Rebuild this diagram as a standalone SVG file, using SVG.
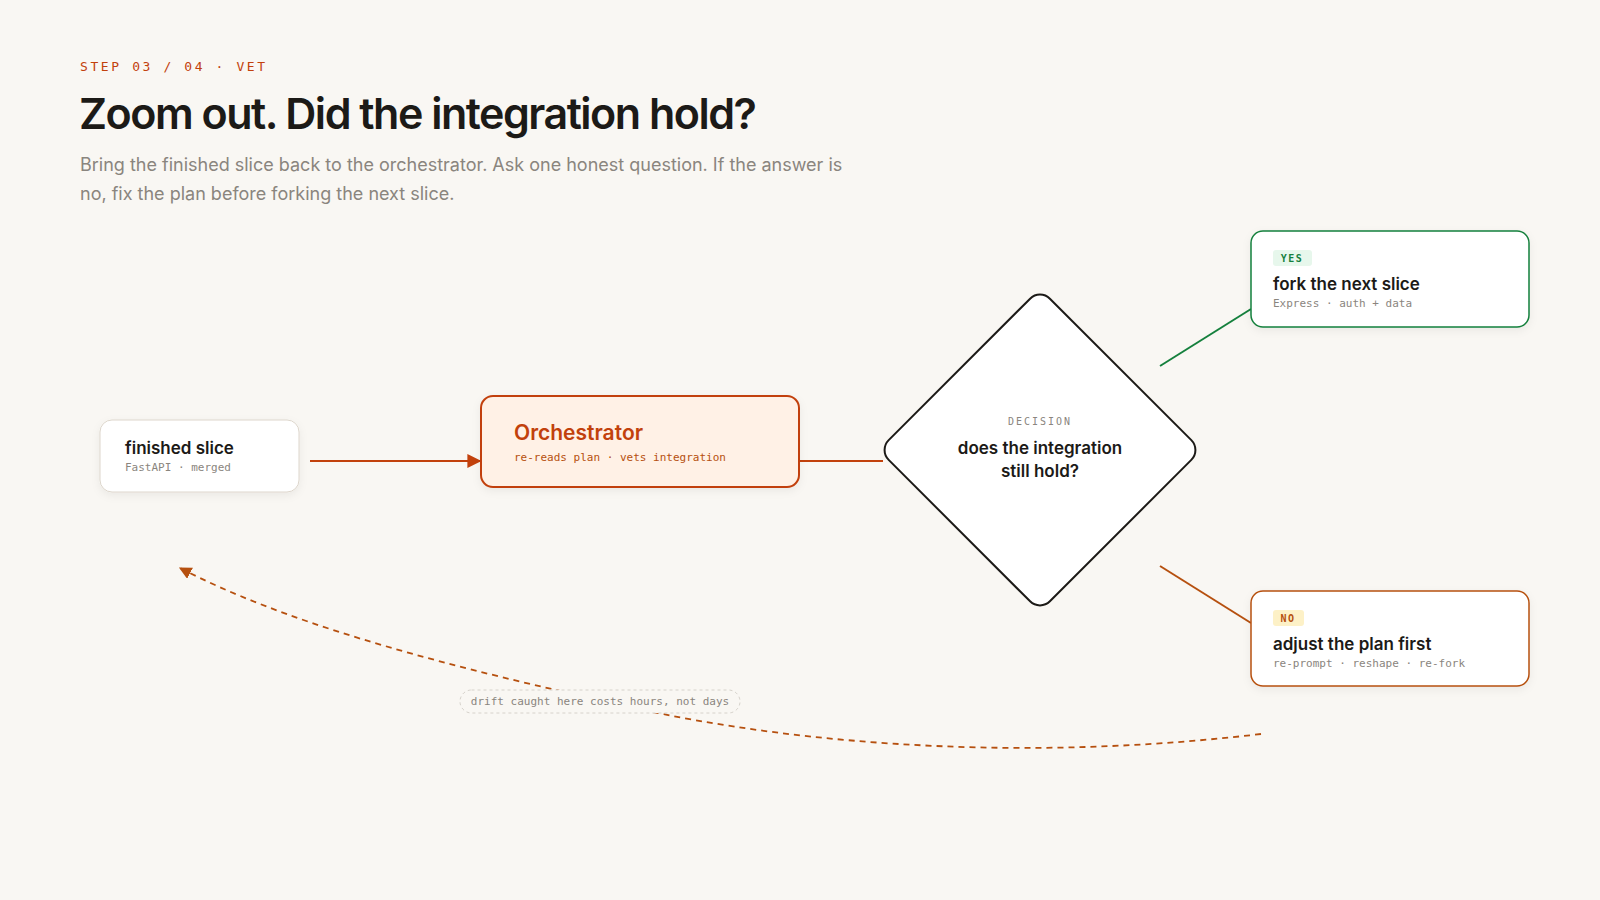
<svg xmlns="http://www.w3.org/2000/svg" width="1600" height="900" viewBox="0 0 1600 900">
<style>
.sans{font-family:Inter,"Noto Sans","Liberation Sans",sans-serif}
.mono{font-family:"DejaVu Sans Mono","Liberation Mono",monospace}
.ttl{font-size:17px;font-weight:600;fill:#1c1a17}
.sub{font-size:11px;fill:#8a857e}
</style>
<defs>
<marker id="ah" viewBox="0 0 10 10" refX="9" refY="5" markerWidth="7" markerHeight="7" orient="auto-start-reverse"><path d="M0,0L10,5L0,10z" fill="#c2410c"/></marker>
<marker id="ah2" viewBox="0 0 10 10" refX="9" refY="5" markerWidth="7" markerHeight="7" orient="auto"><path d="M0,0L10,5L0,10z" fill="#b6500f"/></marker>
<filter id="sh" x="-20%" y="-20%" width="140%" height="150%"><feDropShadow dx="0" dy="3" stdDeviation="4" flood-color="#000" flood-opacity="0.06"/></filter>
</defs>
<rect width="1600" height="900" fill="#f9f7f3"/>
<text x="80" y="71" class="mono" font-size="13" letter-spacing="2.6" fill="#c2410c">STEP 03 / 04 · VET</text>
<text x="79" y="129" class="sans" font-size="43" font-weight="600" letter-spacing="-1.5" fill="#1c1a17">Zoom out. Did the integration hold?</text>
<text class="sans" font-size="18" fill="#8a857e"><tspan x="80" y="171">Bring the finished slice back to the orchestrator. Ask one honest question. If the answer is</tspan><tspan x="80" y="200">no, fix the plan before forking the next slice.</tspan></text>
<g id="connectors" fill="none">
<line x1="310" y1="461" x2="480" y2="461" stroke="#c2410c" stroke-width="2" marker-end="url(#ah)"/>
<line x1="799" y1="461" x2="883" y2="461" stroke="#c2410c" stroke-width="2"/>
<line x1="1160" y1="366" x2="1251" y2="309" stroke="#15803d" stroke-width="2"/>
<line x1="1160" y1="566" x2="1251" y2="623" stroke="#b6500f" stroke-width="2"/>
<path d="M1261,734 C1000,765 760,740 600,700 C420,660 280,620 180,568" stroke="#b6500f" stroke-width="1.8" stroke-dasharray="6 5" marker-end="url(#ah2)"/>
<rect x="460" y="690" width="280" height="23" rx="11.5" fill="#f9f7f3" stroke="#d6d2cb" stroke-dasharray="3 3"/>
<text x="600" y="705" text-anchor="middle" class="mono" font-size="11" fill="#8a857e">drift caught here costs hours, not days</text>
</g>
<g id="finished">
<rect x="100" y="420" width="199" height="72" rx="12" fill="#fff" stroke="#ddd6cc" filter="url(#sh)"/>
<text x="125" y="454" class="sans ttl" font-size="16">finished slice</text>
<text x="125" y="471" class="mono sub">FastAPI · merged</text>
</g>
<g id="orchestrator">
<rect x="481" y="396" width="318" height="91" rx="12" fill="#fff1e6" stroke="#c2410c" stroke-width="2" filter="url(#sh)"/>
<text x="514" y="440" class="sans" font-size="21" font-weight="600" fill="#c2410c">Orchestrator</text>
<text x="514" y="461" class="mono" font-size="11" fill="#b6500f">re-reads plan · vets integration</text>
</g>
<g id="decision">
<rect x="926" y="336" width="228" height="228" rx="14" transform="rotate(45 1040 450)" fill="#fff" stroke="#1c1a17" stroke-width="2"/>
<text x="1040" y="425" text-anchor="middle" class="mono" font-size="10" letter-spacing="2" fill="#8a857e">DECISION</text>
<text x="1040" y="454" text-anchor="middle" class="sans ttl" font-size="18">does the integration</text>
<text x="1040" y="477" text-anchor="middle" class="sans ttl" font-size="18">still hold?</text>
</g>
<g id="yes">
<rect x="1251" y="231" width="278" height="96" rx="12" fill="#fff" stroke="#15803d" stroke-width="1.5" filter="url(#sh)"/>
<rect x="1273" y="250" width="39" height="16" rx="3" fill="#e7f7ec"/>
<text x="1292" y="262" text-anchor="middle" class="mono" font-size="10" font-weight="700" letter-spacing="1.5" fill="#15803d">YES</text>
<text x="1273" y="290" class="sans ttl">fork the next slice</text>
<text x="1273" y="307" class="mono sub">Express · auth + data</text>
</g>
<g id="no">
<rect x="1251" y="591" width="278" height="95" rx="12" fill="#fff" stroke="#b6500f" stroke-width="1.5" filter="url(#sh)"/>
<rect x="1273" y="610" width="31" height="16" rx="3" fill="#fdf1c7"/>
<text x="1288" y="622" text-anchor="middle" class="mono" font-size="10" font-weight="700" letter-spacing="1.5" fill="#b6500f">NO</text>
<text x="1273" y="650" class="sans ttl">adjust the plan first</text>
<text x="1273" y="667" class="mono sub">re-prompt · reshape · re-fork</text>
</g>
</svg>
